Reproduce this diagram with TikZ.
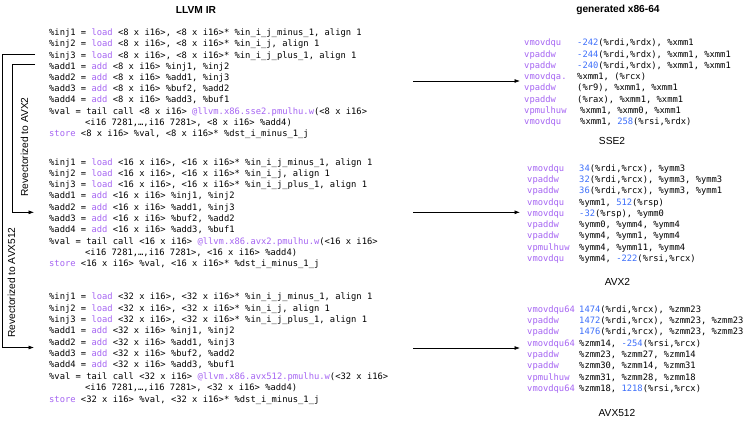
\documentclass[tikz,border=0pt]{standalone}
\usepackage{fontspec}
\setmainfont{Liberation Sans}
\newfontfamily\codefont{DejaVu Sans Mono}
\usetikzlibrary{arrows.meta}
\definecolor{kwpurple}{RGB}{165,100,242}
\definecolor{numblue}{RGB}{60,110,250}
\newcommand\kw[1]{\textcolor{kwpurple}{#1}}
\newcommand\nb[1]{\textcolor{numblue}{#1}}
\begin{document}
\begin{tikzpicture}[x=1pt,y=-1pt,
 code/.style={anchor=base west,inner sep=0pt,font=\codefont\fontsize{8.8}{11}\selectfont},
 ttl/.style={inner sep=0pt,font=\bfseries\fontsize{10.2}{12}\selectfont},
 lbl/.style={inner sep=0pt,font=\fontsize{10.2}{12}\selectfont},
 conn/.style={line width=0.7pt,-{Latex[length=5.5pt,width=4pt]}},
 brk/.style={line width=0.6pt,-{Latex[length=5.5pt,width=4pt]}}]
\useasboundingbox (0,0) rectangle (747,424);

% titles
\node[ttl] (t1) at (196,10) {LLVM IR};
\node[ttl] (t2) at (618,10) {generated x86-64};

% ---------------- SSE2 IR
\node[code] (a1) at (49,35.7) {\%inj1 = \kw{load} <8 x i16>, <8 x i16>* \%in\_i\_j\_minus\_1, align 1};
\node[code] (a2) at (49,46.9) {\%inj2 = \kw{load} <8 x i16>, <8 x i16>* \%in\_i\_j, align 1};
\node[code] (a3) at (49,58.1) {\%inj3 = \kw{load} <8 x i16>, <8 x i16>* \%in\_i\_j\_plus\_1, align 1};
\node[code] (a4) at (49,69.3) {\%add1 = \kw{add} <8 x i16> \%inj1, \%inj2};
\node[code] (a5) at (49,80.5) {\%add2 = \kw{add} <8 x i16> \%add1, \%inj3};
\node[code] (a6) at (49,91.7) {\%add3 = \kw{add} <8 x i16> \%buf2, \%add2};
\node[code] (a7) at (49,102.9) {\%add4 = \kw{add} <8 x i16> \%add3, \%buf1};
\node[code] (a8) at (49,114.1) {\%val = tail call <8 x i16> \kw{@llvm.x86.sse2.pmulhu.w}(<8 x i16>};
\node[code] (a9) at (85,125.3) {<i16 7281,…,i16 7281>, <8 x i16> \%add4)};
\node[code] (a10) at (49,136.7) {\kw{store} <8 x i16> \%val, <8 x i16>* \%dst\_i\_minus\_1\_j};

% ---------------- AVX2 IR
\node[code] (b1) at (49,165.0) {\%inj1 = \kw{load} <16 x i16>, <16 x i16>* \%in\_i\_j\_minus\_1, align 1};
\node[code] (b2) at (49,176.3) {\%inj2 = \kw{load} <16 x i16>, <16 x i16>* \%in\_i\_j, align 1};
\node[code] (b3) at (49,187.6) {\%inj3 = \kw{load} <16 x i16>, <16 x i16>* \%in\_i\_j\_plus\_1, align 1};
\node[code] (b4) at (49,198.9) {\%add1 = \kw{add} <16 x i16> \%inj1, \%inj2};
\node[code] (b5) at (49,210.2) {\%add2 = \kw{add} <16 x i16> \%add1, \%inj3};
\node[code] (b6) at (49,221.5) {\%add3 = \kw{add} <16 x i16> \%buf2, \%add2};
\node[code] (b7) at (49,232.8) {\%add4 = \kw{add} <16 x i16> \%add3, \%buf1};
\node[code] (b8) at (49,244.1) {\%val = tail call <16 x i16> \kw{@llvm.x86.avx2.pmulhu.w}(<16 x i16>};
\node[code] (b9) at (85,255.4) {<i16 7281,…,i16 7281>, <16 x i16> \%add4)};
\node[code] (b10) at (49,266.9) {\kw{store} <16 x i16> \%val, <16 x i16>* \%dst\_i\_minus\_1\_j};

% ---------------- AVX512 IR
\node[code] (c1) at (49,299.7) {\%inj1 = \kw{load} <32 x i16>, <32 x i16>* \%in\_i\_j\_minus\_1, align 1};
\node[code] (c2) at (49,311.05) {\%inj2 = \kw{load} <32 x i16>, <32 x i16>* \%in\_i\_j, align 1};
\node[code] (c3) at (49,322.4) {\%inj3 = \kw{load} <32 x i16>, <32 x i16>* \%in\_i\_j\_plus\_1, align 1};
\node[code] (c4) at (49,333.75) {\%add1 = \kw{add} <32 x i16> \%inj1, \%inj2};
\node[code] (c5) at (49,345.1) {\%add2 = \kw{add} <32 x i16> \%add1, \%inj3};
\node[code] (c6) at (49,356.45) {\%add3 = \kw{add} <32 x i16> \%buf2, \%add2};
\node[code] (c7) at (49,367.8) {\%add4 = \kw{add} <32 x i16> \%add3, \%buf1};
\node[code] (c8) at (49,379.15) {\%val = tail call <32 x i16> \kw{@llvm.x86.avx512.pmulhu.w}(<32 x i16>};
\node[code] (c9) at (85,390.5) {<i16 7281,…,i16 7281>, <32 x i16> \%add4)};
\node[code] (c10) at (49,402.0) {\kw{store} <32 x i16> \%val, <32 x i16>* \%dst\_i\_minus\_1\_j};

% ---------------- SSE2 asm
\node[code] (sm1) at (524,45.7) {\kw{vmovdqu}};  \node[code] (so1) at (577,45.7) {\nb{-242}(\%rdi,\%rdx), \%xmm1};
\node[code] (sm2) at (524,57.0) {\kw{vpaddw}};   \node[code] (so2) at (577,57.0) {\nb{-244}(\%rdi,\%rdx), \%xmm1, \%xmm1};
\node[code] (sm3) at (524,68.3) {\kw{vpaddw}};   \node[code] (so3) at (577,68.3) {\nb{-240}(\%rdi,\%rdx), \%xmm1, \%xmm1};
\node[code] (sm4) at (524,79.6) {\kw{vmovdqa.}}; \node[code] (so4) at (577,79.6) {\%xmm1, (\%rcx)};
\node[code] (sm5) at (524,90.9) {\kw{vpaddw}};   \node[code] (so5) at (577,90.9) {(\%r9), \%xmm1, \%xmm1};
\node[code] (sm6) at (524,102.2) {\kw{vpaddw}};  \node[code] (so6) at (577,102.2) {(\%rax), \%xmm1, \%xmm1};
\node[code] (sm7) at (524,113.5) {\kw{vpmulhuw}};\node[code] (so7) at (580,113.5) {\%xmm1, \%xmm0, \%xmm1};
\node[code] (sm8) at (524,124.8) {\kw{vmovdqu}}; \node[code] (so8) at (580,124.8) {\%xmm1, \nb{258}(\%rsi,\%rdx)};
\node[lbl] (l1) at (612,140.7) {SSE2};

% ---------------- AVX2 asm
\node[code] (tm1) at (527,171.3) {\kw{vmovdqu}};  \node[code] (to1) at (579,171.3) {\nb{34}(\%rdi,\%rcx), \%ymm3};
\node[code] (tm2) at (527,182.55) {\kw{vpaddw}};  \node[code] (to2) at (579,182.55) {\nb{32}(\%rdi,\%rcx), \%ymm3, \%ymm3};
\node[code] (tm3) at (527,193.8) {\kw{vpaddw}};   \node[code] (to3) at (579,193.8) {\nb{36}(\%rdi,\%rcx), \%ymm3, \%ymm1};
\node[code] (tm4) at (527,205.05) {\kw{vmovdqu}}; \node[code] (to4) at (579,205.05) {\%ymm1, \nb{512}(\%rsp)};
\node[code] (tm5) at (527,216.3) {\kw{vmovdqu}};  \node[code] (to5) at (579,216.3) {\nb{-32}(\%rsp), \%ymm0};
\node[code] (tm6) at (527,227.55) {\kw{vpaddw}};  \node[code] (to6) at (579,227.55) {\%ymm0, \%ymm4, \%ymm4};
\node[code] (tm7) at (527,238.8) {\kw{vpaddw}};   \node[code] (to7) at (579,238.8) {\%ymm4, \%ymm1, \%ymm4};
\node[code] (tm8) at (527,250.05) {\kw{vpmulhuw}};\node[code] (to8) at (579,250.05) {\%ymm4, \%ymm11, \%ymm4};
\node[code] (tm9) at (527,261.3) {\kw{vmovdqu}};  \node[code] (to9) at (579,261.3) {\%ymm4, \nb{-222}(\%rsi,\%rcx)};
\node[lbl] (l2) at (617.5,282) {AVX2};

% ---------------- AVX512 asm
\node[code] (um1) at (527,312.0) {\kw{vmovdqu64}}; \node[code] (uo1) at (579,312.0) {\nb{1474}(\%rdi,\%rcx), \%zmm23};
\node[code] (um2) at (527,323.33) {\kw{vpaddw}};   \node[code] (uo2) at (579,323.33) {\nb{1472}(\%rdi,\%rcx), \%zmm23, \%zmm23};
\node[code] (um3) at (527,334.66) {\kw{vpaddw}};   \node[code] (uo3) at (579,334.66) {\nb{1476}(\%rdi,\%rcx), \%zmm23, \%zmm23};
\node[code] (um4) at (527,346.0) {\kw{vmovdqu64}}; \node[code] (uo4) at (579,346.0) {\%zmm14, \nb{-254}(\%rsi,\%rcx)};
\node[code] (um5) at (527,357.33) {\kw{vpaddw}};   \node[code] (uo5) at (579,357.33) {\%zmm23, \%zmm27, \%zmm14};
\node[code] (um6) at (527,368.66) {\kw{vpaddw}};   \node[code] (uo6) at (579,368.66) {\%zmm30, \%zmm14, \%zmm31};
\node[code] (um7) at (527,380.0) {\kw{vpmulhuw}};  \node[code] (uo7) at (579,380.0) {\%zmm31, \%zmm28, \%zmm18};
\node[code] (um8) at (527,391.33) {\kw{vmovdqu64}};\node[code] (uo8) at (579,391.33) {\%zmm18, \nb{1218}(\%rsi,\%rcx)};
\node[lbl] (l3) at (617,413.3) {AVX512};

% ---------------- IR -> asm arrows
\coordinate (p1s) at (413,81);   \coordinate (p1e) at (520,81);
\coordinate (p2s) at (413,212.3);\coordinate (p2e) at (520,212.3);
\coordinate (p3s) at (413,348);  \coordinate (p3e) at (520,348);
\draw[conn] (p1s) -- (p1e);
\draw[conn] (p2s) -- (p2e);
\draw[conn] (p3s) -- (p3e);

% ---------------- revectorization brackets
\coordinate (o1) at (35,54.7); \coordinate (o2) at (2,54.7);
\coordinate (o3) at (2,347.5); \coordinate (o4) at (34,347.5);
\draw[brk] (o1) -- (o2) -- (o3) -- (o4);
\coordinate (i1) at (35,64.3); \coordinate (i2) at (12.3,64.3);
\coordinate (i3) at (12.3,212.3); \coordinate (i4) at (34,212.3);
\draw[brk] (i1) -- (i2) -- (i3) -- (i4);

\node[lbl,rotate=90] (r1) at (24.5,147) {Revectorized to AVX2};
\node[lbl,rotate=90] (r2) at (11.5,282.5) {Revectorized to AVX512};
\end{tikzpicture}
\end{document}
